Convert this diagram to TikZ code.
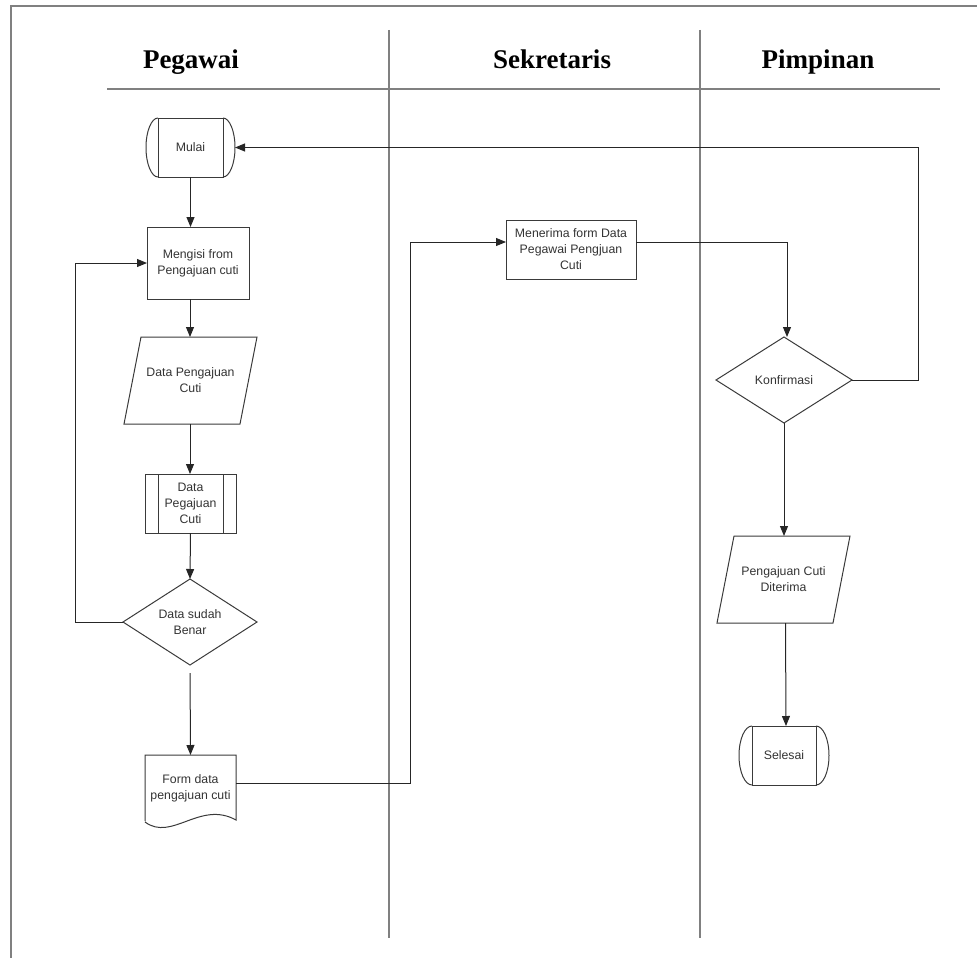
\documentclass[tikz,border=0pt]{standalone}
\usepackage{fontspec}
\setmainfont{Liberation Sans}
\newfontfamily\headfont{Liberation Serif}
\usetikzlibrary{arrows.meta,calc}
\definecolor{lanegray}{HTML}{808080}
\definecolor{shapeline}{HTML}{3A3A3A}
\definecolor{txt}{HTML}{333333}
\begin{document}
\begin{tikzpicture}[x=1pt,y=-1pt,
  every node/.style={inner sep=0pt, outer sep=0pt, text=txt, font=\fontsize{12.3}{16}\selectfont, align=center},
  plain/.style={draw=none},
  shapestroke/.style={draw=shapeline, line width=1pt},
  conn/.style={draw=black!85, line width=1pt},
  arr/.style={conn, -{Triangle[length=10pt,width=8pt]}},
  head/.style={font=\headfont\bfseries\fontsize{27}{30}\selectfont, text=black, anchor=base},
  lane/.style={draw=lanegray, line width=1.6pt}
]
\useasboundingbox (0,0) rectangle (977,958);
% frame
\draw[lane] (11,958) -- (11,6) -- (977,6);
% lanes
\draw[lane] (389,30) -- (389,938);
\draw[lane] (700,30) -- (700,938);
\draw[lane, line width=2pt] (107,89) -- (940,89);
% headers
\node[head] (h1) at (191,69) {Pegawai};
\node[head] (h2) at (552,69) {Sekretaris};
\node[head] (h3) at (818,69) {Pimpinan};

% Mulai terminal
\node[shapestroke, minimum width=65pt, minimum height=59pt] (mulai) at (190.5,147.5) {Mulai};
\draw[shapestroke] (mulai.north west) arc[start angle=90, end angle=270, x radius=12pt, y radius=29.5pt];
\draw[shapestroke] (mulai.north east) arc[start angle=90, end angle=-90, x radius=12pt, y radius=29.5pt];

% Mengisi
\node[shapestroke, minimum width=102pt, minimum height=72pt] (mengisi) at (198,263) {Mengisi from\\Pengajuan cuti};

% Data Pengajuan Cuti parallelogram
\node[plain, minimum width=133pt, minimum height=87pt] (dpc) at (190.5,380.5) {Data Pengajuan\\Cuti};
\draw[shapestroke] ([xshift=17pt]dpc.north west) -- (dpc.north east) -- ([xshift=-17pt]dpc.south east) -- (dpc.south west) -- cycle;

% Predefined process
\node[shapestroke, minimum width=91pt, minimum height=59pt] (pp) at (190.5,503.5) {Data\\Pegajuan\\Cuti};
\draw[shapestroke] ([xshift=13pt]pp.north west) -- ([xshift=13pt]pp.south west);
\draw[shapestroke] ([xshift=-13pt]pp.north east) -- ([xshift=-13pt]pp.south east);

% Decision 1
\node[plain, minimum width=134pt, minimum height=86pt] (d1) at (190,622) {Data sudah\\Benar};
\draw[shapestroke] (d1.north) -- (d1.east) -- (d1.south) -- (d1.west) -- cycle;

% Document
\node[plain, minimum width=91pt, minimum height=66pt] (doc) at (190.5,788) {Form data\\pengajuan cuti};
\draw[shapestroke] (doc.south west) -- (doc.north west) -- (doc.north east) -- ([yshift=1pt]doc.south east)
  .. controls (200,800) and (172,842) .. ([yshift=-1pt]doc.south west);

% Menerima
\node[shapestroke, minimum width=130pt, minimum height=59pt] (men) at (571,249.5) {Menerima form Data\\Pegawai Pengjuan\\Cuti};

% Konfirmasi decision
\node[plain, minimum width=136pt, minimum height=86pt] (konf) at (784,380) {Konfirmasi};
\draw[shapestroke] (konf.north) -- (konf.east) -- (konf.south) -- (konf.west) -- cycle;

% Pengajuan Cuti Diterima parallelogram
\node[plain, minimum width=133pt, minimum height=87pt] (p2) at (783.5,579.5) {Pengajuan Cuti\\Diterima};
\draw[shapestroke] ([xshift=17pt]p2.north west) -- (p2.north east) -- ([xshift=-17pt]p2.south east) -- (p2.south west) -- cycle;

% Selesai terminal
\node[shapestroke, minimum width=64pt, minimum height=59pt] (sel) at (784,755.5) {Selesai};
\draw[shapestroke] (sel.north west) arc[start angle=90, end angle=270, x radius=13pt, y radius=29.5pt];
\draw[shapestroke] (sel.north east) arc[start angle=90, end angle=-90, x radius=13pt, y radius=29.5pt];

% connectors
\coordinate (spine) at (190,0);
\draw[arr] (mulai.south) -- (mulai.south |- mengisi.north);
\draw[arr] (spine |- mengisi.south) -- (spine |- dpc.north);
\draw[arr] (spine |- dpc.south) -- (spine |- pp.north);
\draw[arr] (pp.south) -- (spine |- d1.north);
\draw[arr, shorten <=8pt] (d1.south) -- (doc.north);
\draw[arr] (d1.west) -- ++(-48,0) |- (mengisi.west);
\coordinate (c1) at (410,242);
\draw[arr] ([yshift=4.5pt]doc.east) -| (c1) -- ([yshift=7.5pt]men.west);
\draw[arr] ([yshift=7.5pt]men.east) -| ([xshift=3pt]konf.north);
\draw[arr] (konf.east) -- ++(66,0) |- ([xshift=12pt]mulai.east);
\draw[arr] (konf.south) -- (konf.south |- p2.north);
\draw[arr] ([xshift=2pt]p2.south) -- ([xshift=2pt]sel.north);
\end{tikzpicture}
\end{document}
